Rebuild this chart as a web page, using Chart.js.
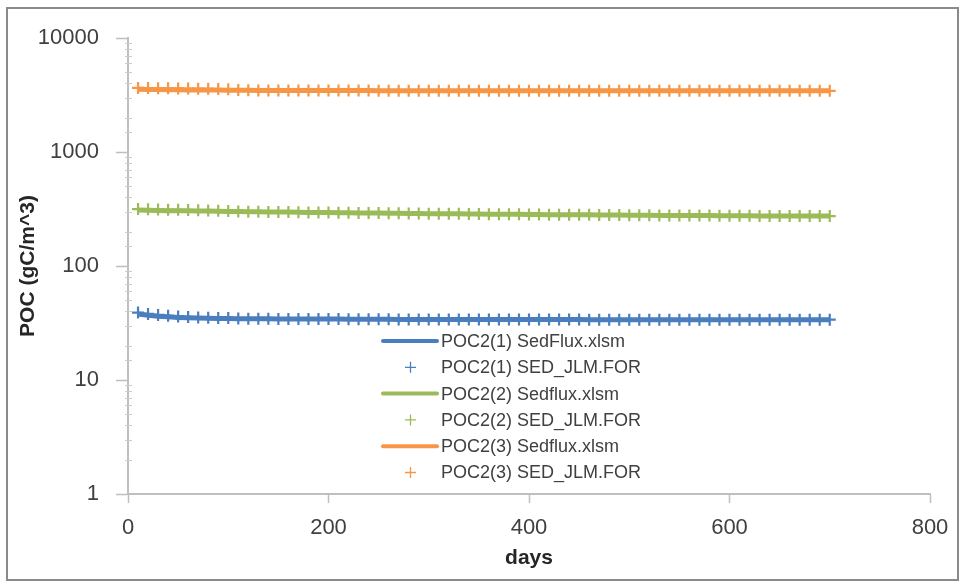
<!DOCTYPE html>
<html>
<head>
<meta charset="utf-8">
<title>POC2 SedFlux vs SED_JLM</title>
<script src="https://cdn.jsdelivr.net/npm/chart.js@4.4.0/dist/chart.umd.min.js"></script>
<style>
    html, body { margin: 0; padding: 0; background: #fff; }
    #wrap { position: relative; width: 964px; height: 583px; }
    #frame {
        position: absolute; left: 6px; top: 7px; width: 953px; height: 574px;
        border: 2px solid #8a8a8a; box-sizing: border-box; pointer-events: none;
    }
</style>
</head>
<body>
<div id="wrap">
    <canvas id="pocChart" width="964" height="583"></canvas>
    <div id="frame"></div>
</div>
<script>
// Дані
const DAYS = [10, 20, 30, 40, 50, 60, 70, 80, 90, 100,
    110, 120, 130, 140, 150, 160, 170, 180, 190, 200,
    210, 220, 230, 240, 250, 260, 270, 280, 290, 300,
    310, 320, 330, 340, 350, 360, 370, 380, 390, 400,
    410, 420, 430, 440, 450, 460, 470, 480, 490, 500,
    510, 520, 530, 540, 550, 560, 570, 580, 590, 600,
    610, 620, 630, 640, 650, 660, 670, 680, 690, 700];

const POC1_SEDFLUX = [38.0, 37.0, 36.3, 35.8, 35.4, 35.1, 34.9, 34.8, 34.7, 34.6,
    34.5, 34.5, 34.4, 34.4, 34.3, 34.3, 34.3, 34.2, 34.2, 34.2,
    34.2, 34.1, 34.1, 34.1, 34.1, 34.1, 34.0, 34.0, 34.0, 34.0,
    34.0, 34.0, 34.0, 34.0, 33.9, 33.9, 33.9, 33.9, 33.9, 33.9,
    33.9, 33.9, 33.9, 33.9, 33.9, 33.8, 33.8, 33.8, 33.8, 33.8,
    33.8, 33.8, 33.8, 33.8, 33.8, 33.8, 33.8, 33.8, 33.8, 33.8,
    33.8, 33.8, 33.8, 33.8, 33.8, 33.8, 33.8, 33.8, 33.8, 33.8];
const POC1_JLM = [39.0, 38.0, 37.2, 36.6, 36.1, 35.7, 35.4, 35.2, 35.0, 34.9,
    34.6, 34.5, 34.4, 34.4, 34.3, 34.3, 34.3, 34.2, 34.2, 34.2,
    34.2, 34.1, 34.1, 34.1, 34.1, 34.1, 34.0, 34.0, 34.0, 34.0,
    34.0, 34.0, 34.0, 34.0, 33.9, 33.9, 33.9, 33.9, 33.9, 33.9,
    33.9, 33.9, 33.9, 33.9, 33.9, 33.8, 33.8, 33.8, 33.8, 33.8,
    33.8, 33.8, 33.8, 33.8, 33.8, 33.8, 33.8, 33.8, 33.8, 33.8,
    33.8, 33.8, 33.8, 33.8, 33.8, 33.8, 33.8, 33.8, 33.8, 33.8];

const POC2_SEDFLUX = [310, 308, 307, 306, 305, 305, 304, 303, 302, 301,
    300, 299, 299, 298, 297, 297, 296, 295, 295, 294,
    293, 293, 292, 292, 291, 290, 290, 289, 289, 288,
    288, 287, 287, 286, 286, 285, 285, 284, 284, 283,
    283, 282, 282, 282, 281, 281, 280, 280, 280, 279,
    279, 279, 278, 278, 278, 277, 277, 277, 276, 276,
    276, 276, 275, 275, 275, 275, 274, 274, 274, 274];
const POC2_JLM = [316, 314, 313, 312, 311, 310, 309, 307, 305, 303,
    301, 299, 299, 298, 297, 297, 296, 295, 295, 294,
    293, 293, 292, 292, 291, 290, 290, 289, 289, 288,
    288, 287, 287, 286, 286, 285, 285, 284, 284, 283,
    283, 282, 282, 282, 281, 281, 280, 280, 280, 279,
    279, 279, 278, 278, 278, 277, 277, 277, 276, 276,
    276, 276, 275, 275, 275, 275, 274, 274, 274, 274];

const POC3_SEDFLUX = [3560, 3540, 3530, 3520, 3510, 3500, 3500, 3490, 3490, 3480,
    3480, 3480, 3470, 3470, 3470, 3470, 3460, 3460, 3460, 3460,
    3460, 3455, 3455, 3455, 3450, 3450, 3450, 3450, 3450, 3450,
    3450, 3450, 3445, 3445, 3445, 3445, 3445, 3445, 3445, 3440,
    3440, 3440, 3440, 3440, 3440, 3440, 3440, 3440, 3440, 3440,
    3440, 3440, 3440, 3440, 3440, 3440, 3440, 3440, 3440, 3440,
    3440, 3440, 3440, 3440, 3440, 3440, 3440, 3440, 3440, 3440];
const POC3_JLM = [3650, 3640, 3630, 3620, 3610, 3600, 3590, 3580, 3570, 3560,
    3490, 3480, 3470, 3470, 3470, 3470, 3460, 3460, 3460, 3460,
    3460, 3455, 3455, 3455, 3450, 3450, 3450, 3450, 3450, 3450,
    3450, 3450, 3445, 3445, 3445, 3445, 3445, 3445, 3445, 3440,
    3440, 3440, 3440, 3440, 3440, 3440, 3440, 3440, 3440, 3440,
    3440, 3440, 3440, 3440, 3440, 3440, 3440, 3440, 3440, 3440,
    3440, 3440, 3440, 3440, 3440, 3440, 3440, 3440, 3440, 3440];

const SERIES_LABELS = ['POC2(1) SedFlux.xlsm', 'POC2(1) SED_JLM.FOR',
    'POC2(2) Sedflux.xlsm', 'POC2(2) SED_JLM.FOR',
    'POC2(3) Sedflux.xlsm', 'POC2(3) SED_JLM.FOR'];
const Y_MAJOR_TICKS = [1, 10, 100, 1000, 10000];
const X_TICKS = [0, 200, 400, 600, 800];

const BLUE = '#4a7ebf';
const GREEN = '#9bbb59';
const ORANGE = '#f79646';
const FONT = "'Liberation Sans', Arial, sans-serif";

const toXY = vals => vals.map((v, i) => ({ x: DAYS[i], y: v }));

function lineSet(label, vals, color) {
    return {
        label, data: toXY(vals), showLine: true, borderColor: color, backgroundColor: color,
        borderWidth: 5, pointRadius: 0, tension: 0, order: 2
    };
}
function markSet(label, vals, color) {
    return {
        label, data: toXY(vals), showLine: false, borderColor: color, backgroundColor: color,
        pointStyle: 'cross', pointRadius: 6, pointBorderWidth: 2.2, order: 1
    };
}

// Мітки другорядних поділок на лог-осі
const minorTicks = {
    id: 'minorTicks',
    afterDraw(chart) {
        const s = chart.scales.y;
        const c = chart.ctx;
        c.save();
        c.strokeStyle = '#cccccc';
        c.lineWidth = 1;
        s.ticks.forEach(t => {
            if (Y_MAJOR_TICKS.includes(t.value)) return;
            const py = Math.round(s.getPixelForValue(t.value)) + 0.5;
            c.beginPath();
            c.moveTo(s.right - 3, py);
            c.lineTo(s.right + 4, py);
            c.stroke();
        });
        c.restore();
    }
};

// Легенда всередині області графіка
const insideLegend = {
    id: 'insideLegend',
    afterDraw(chart) {
        const c = chart.ctx;
        const area = chart.chartArea;
        const x0 = area.left + 255;
        const y0 = area.top + 303;
        const rowH = 26.3;
        c.save();
        c.font = '18px ' + FONT;
        c.textBaseline = 'middle';
        chart.data.datasets.forEach((ds, i) => {
            const y = y0 + i * rowH;
            c.strokeStyle = ds.borderColor;
            if (ds.showLine) {
                c.lineWidth = 4;
                c.lineCap = 'round';
                c.beginPath();
                c.moveTo(x0, y);
                c.lineTo(x0 + 54, y);
                c.stroke();
            } else {
                c.lineWidth = 1.3;
                c.lineCap = 'butt';
                c.beginPath();
                c.moveTo(x0 + 22, y); c.lineTo(x0 + 33, y);
                c.moveTo(x0 + 27.5, y - 5.5); c.lineTo(x0 + 27.5, y + 5.5);
                c.stroke();
            }
            c.fillStyle = '#404040';
            c.fillText(ds.label, x0 + 58, y + 1);
        });
        c.restore();
    }
};

new Chart(document.getElementById('pocChart'), {
    type: 'scatter',
    data: {
        datasets: [
            lineSet(SERIES_LABELS[0], POC1_SEDFLUX, BLUE),
            markSet(SERIES_LABELS[1], POC1_JLM, BLUE),
            lineSet(SERIES_LABELS[2], POC2_SEDFLUX, GREEN),
            markSet(SERIES_LABELS[3], POC2_JLM, GREEN),
            lineSet(SERIES_LABELS[4], POC3_SEDFLUX, ORANGE),
            markSet(SERIES_LABELS[5], POC3_JLM, ORANGE)
        ]
    },
    options: {
        responsive: false,
        animation: false,
        layout: { padding: { left: 10, top: 38, right: 34, bottom: 12 } },
        plugins: {
            legend: { display: false },
            tooltip: { enabled: false }
        },
        scales: {
            x: {
                type: 'linear',
                min: X_TICKS[0],
                max: X_TICKS[X_TICKS.length - 1],
                afterFit: s => { s.height = 77; },
                afterBuildTicks: s => { s.ticks = X_TICKS.map(v => ({ value: v })); },
                border: { color: '#bfbfbf', width: 2 },
                grid: { drawOnChartArea: false, tickLength: 9, color: '#bfbfbf', tickWidth: 1.5 },
                ticks: { color: '#404040', font: { family: FONT, size: 22 }, padding: 12 },
                title: {
                    display: true, text: 'days', color: '#262626',
                    font: { family: FONT, size: 21, weight: 'bold' }, padding: { top: 2, bottom: 0 }
                }
            },
            y: {
                type: 'logarithmic',
                min: Y_MAJOR_TICKS[0],
                max: Y_MAJOR_TICKS[Y_MAJOR_TICKS.length - 1],
                afterFit: s => { s.width = 118; },
                border: { color: '#bfbfbf', width: 2 },
                grid: {
                    drawOnChartArea: false, tickLength: 12, tickWidth: 1.5,
                    tickColor: ctx => (ctx.tick && Y_MAJOR_TICKS.includes(ctx.tick.value)) ? '#bfbfbf' : 'rgba(0,0,0,0)'
                },
                ticks: {
                    autoSkip: false,
                    color: '#404040',
                    font: { family: FONT, size: 22 },
                    padding: 17,
                    callback: v => Y_MAJOR_TICKS.includes(v) ? String(v) : ''
                },
                title: {
                    display: true, text: 'POC (gC/m^3)', color: '#262626',
                    font: { family: FONT, size: 21, weight: 'bold' }, padding: { top: 6, bottom: 0 }
                }
            }
        }
    },
    plugins: [minorTicks, insideLegend]
});
</script>
</body>
</html>
